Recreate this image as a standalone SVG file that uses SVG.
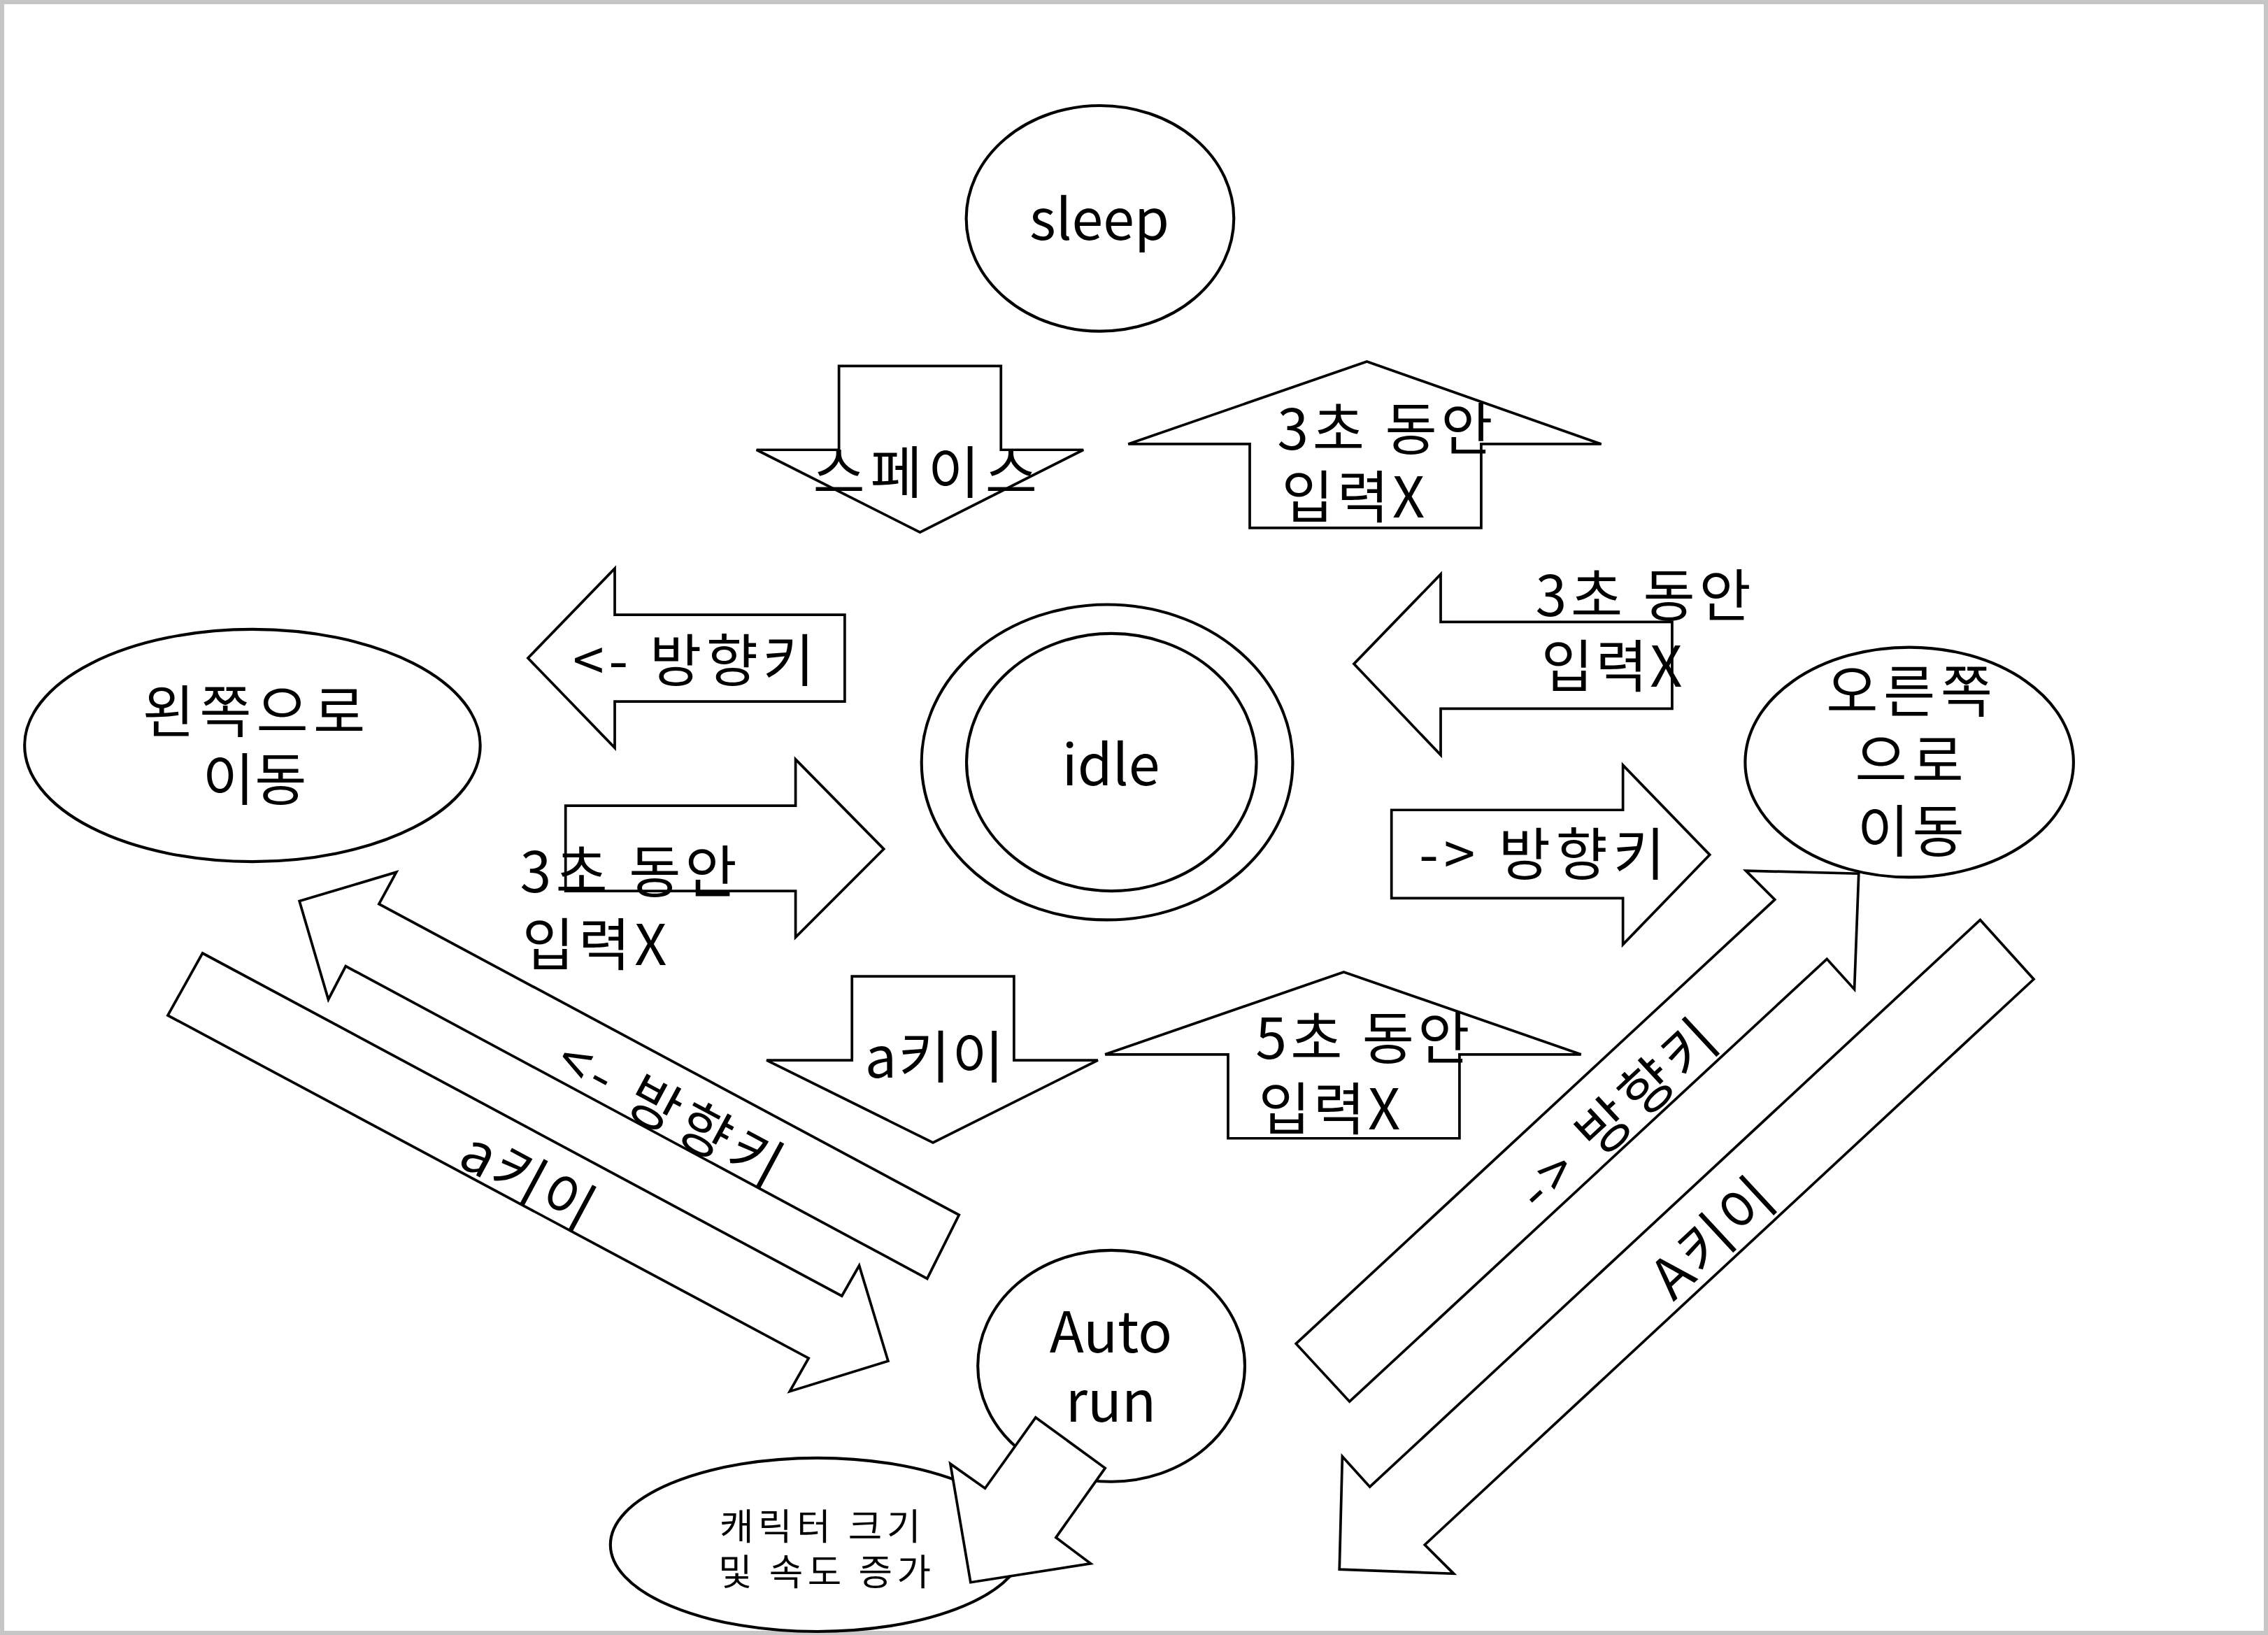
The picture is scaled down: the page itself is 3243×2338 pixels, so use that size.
<svg xmlns="http://www.w3.org/2000/svg" width="3243" height="2338" viewBox="0 0 3243 2338">
<style>
.n{fill:#fff;stroke:#000;stroke-width:2}
.a{fill:#fff;stroke:#000;stroke-width:1.8;stroke-linejoin:miter}
.t{font-family:"Noto Sans CJK KR","Noto Sans",sans-serif;font-size:39px;fill:#000}
.m{text-anchor:middle}
.s{font-size:25.5px}
</style>
<rect x="3" y="3" width="3237" height="2332" fill="#fff" stroke="#c6c6c6" stroke-width="6"/>
<g transform="scale(2.0683)">
<g id="sleep"><ellipse class="n" cx="760.5" cy="151" rx="92.5" ry="78"/><text class="t m" x="760" y="166">sleep</text></g>
<g id="idle"><ellipse class="n" cx="765.4" cy="527" rx="128.3" ry="109"/><ellipse class="n" cx="768.4" cy="527" rx="100.2" ry="89"/><text class="t m" x="768" y="543">idle</text></g>
<g id="move-left"><ellipse class="n" cx="174.5" cy="515.4" rx="157.5" ry="80.3"/><text class="t m" x="175.5" y="506" textLength="154" lengthAdjust="spacing">왼쪽으로</text><text class="t m" x="176" y="553" textLength="72" lengthAdjust="spacing">이동</text></g>
<g id="move-right"><ellipse class="n" cx="1320" cy="527" rx="113.5" ry="79.5"/><text class="t m" x="1320" y="492" textLength="115" lengthAdjust="spacing">오른쪽</text><text class="t m" x="1320" y="540" textLength="75" lengthAdjust="spacing">으로</text><text class="t m" x="1321" y="589" textLength="74" lengthAdjust="spacing">이동</text></g>
<g id="autorun"><ellipse class="n" cx="768.3" cy="944.4" rx="92.3" ry="80"/><text class="t m" x="768" y="935">Auto</text><text class="t m" x="768" y="983">run</text></g>
<g id="boost"><ellipse class="n" cx="565" cy="1068" rx="143" ry="60"/><text class="t s m" x="567" y="1064.5" textLength="139" lengthAdjust="spacing">캐릭터 크기</text><text class="t s m" x="570" y="1096" textLength="147" lengthAdjust="spacing">및 속도 증가</text></g>
<g id="connectors">
<polygon class="a" points="580,253 692,253 692,311 749,311 636,368 523,311 580,311"/>
<polygon class="a" points="945,250 1107,307 1024,307 1024,365 864,365 864,307 780,307"/>
<polygon class="a" points="365,455 425,393 425,425 584,425 584,485 425,485 425,517"/>
<polygon class="a" points="391,557 550,557 550,525 611,587 550,648 550,616 391,616"/>
<polygon class="a" points="936,459 996,397 996,430 1156,430 1156,490 996,490 996,522"/>
<polygon class="a" points="962,560 1122,560 1122,529 1182,591 1122,653 1122,621 962,621"/>
<polygon class="a" points="589,675 701,675 701,733 759,733 645,790 530,733 589,733"/>
<polygon class="a" points="929,672 1093,729 1009,729 1009,787 849,787 849,729 764,729"/>
<polygon class="a" points="207,623 274,603 262,625 663,840 641,884 239,668 227,691"/>
<polygon class="a" points="140,659 582,896 594,875 614,941 546,962 559,939 116,702"/>
<polygon class="a" points="1207,602 1285,604 1282,684 1263,663 933,969 896,929 1227,622"/>
<polygon class="a" points="1369,636 1406,677 985,1068 1005,1088 926,1085 928,1007 947,1028"/>
<polygon class="a" points="716,980 764,1015 730,1063 754,1081 671,1094 657,1012 681,1029"/>
<text class="t m" x="639.5" y="341" textLength="155" lengthAdjust="spacing">스페이스</text>
<text class="t" x="883" y="311" textLength="149" lengthAdjust="spacing">3초 동안</text><text class="t" x="886" y="358" textLength="99" lengthAdjust="spacing">입력X</text>
<text class="t m" x="479.5" y="471" textLength="167" lengthAdjust="spacing">&lt;- 방향키</text>
<text class="t" x="359.5" y="617" textLength="150" lengthAdjust="spacing">3초 동안</text><text class="t" x="361" y="667" textLength="100" lengthAdjust="spacing">입력X</text>
<text class="t" x="1061.5" y="426" textLength="149" lengthAdjust="spacing">3초 동안</text><text class="t" x="1065.5" y="475" textLength="97.5" lengthAdjust="spacing">입력X</text>
<text class="t m" x="1066" y="605" textLength="170" lengthAdjust="spacing">-&gt; 방향키</text>
<text class="t m" x="646" y="745" textLength="96" lengthAdjust="spacing">a키이</text>
<text class="t" x="868" y="732" textLength="148" lengthAdjust="spacing">5초 동안</text><text class="t" x="870" y="781" textLength="98" lengthAdjust="spacing">입력X</text>
<text class="t m" transform="translate(463,769) rotate(28.2)" y="14" textLength="170" lengthAdjust="spacing">&lt;- 방향키</text>
<text class="t m" transform="translate(365,816) rotate(28.2)" y="14" textLength="98" lengthAdjust="spacing">a키이</text>
<text class="t m" transform="translate(1118,771) rotate(-42.8)" y="14" textLength="172" lengthAdjust="spacing">-&gt; 방향키</text>
<text class="t m" transform="translate(1184,856) rotate(-42.8)" y="14" textLength="100" lengthAdjust="spacing">A키이</text>
</g>
</g>
</svg>
